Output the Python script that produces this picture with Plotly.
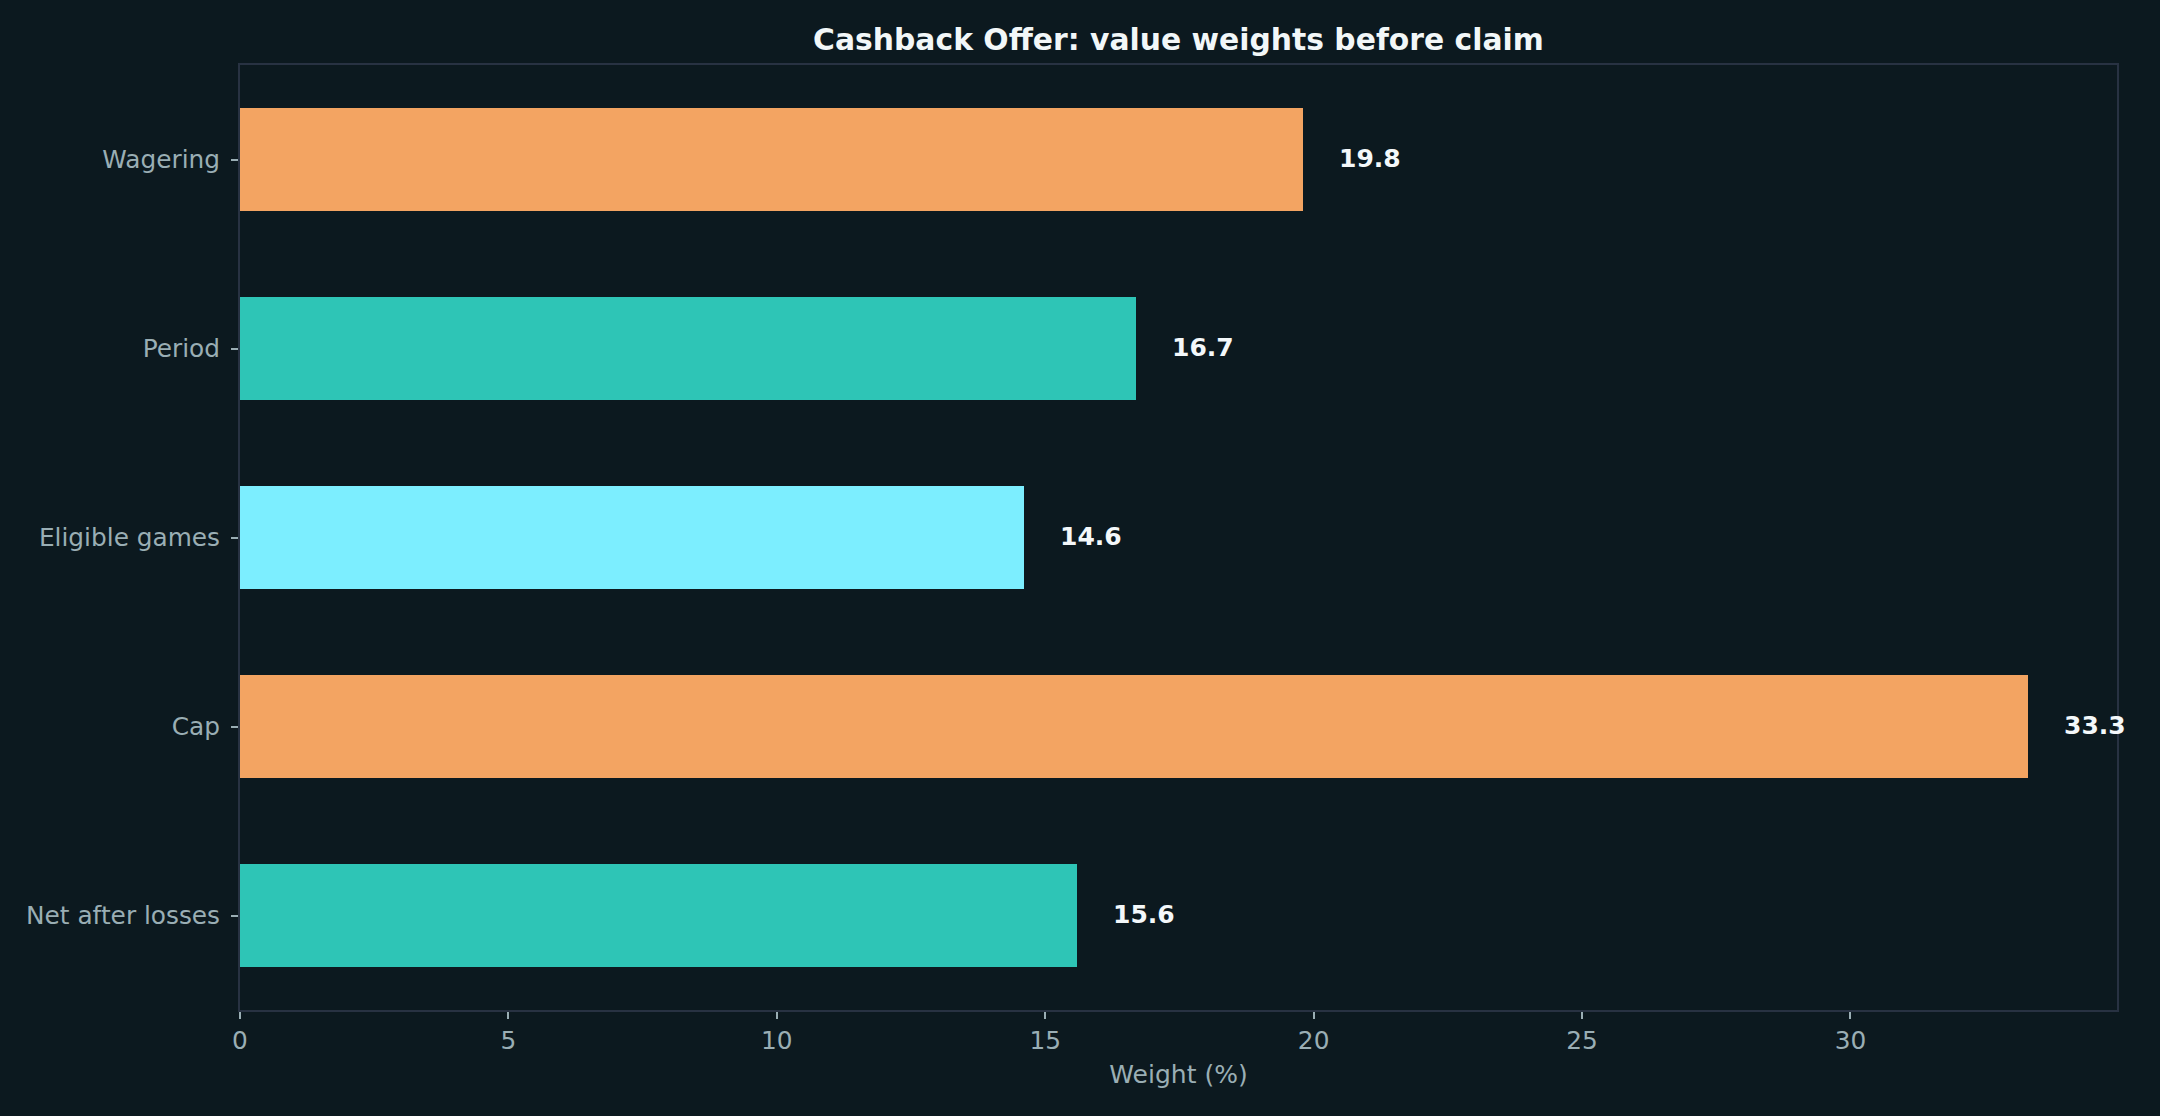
import plotly.graph_objects as go

categories = ["Wagering", "Period", "Eligible games", "Cap", "Net after losses"]
values = [19.8, 16.7, 14.6, 33.3, 15.6]
bar_colors = ["#F3A462", "#2EC5B6", "#7CEEFF", "#F3A462", "#2EC5B6"]
x_ticks = [0, 5, 10, 15, 20, 25, 30]
title_text = "Cashback Offer: value weights before claim"
x_title = "Weight (%)"

BG = "#0C191F"
SPINE = "#283242"
TICK_TXT = "#9AAEB4"
FONT = "DejaVu Sans"

fig = go.Figure()
fig.add_trace(go.Bar(
    x=values,
    y=categories,
    orientation="h",
    width=0.55,
    marker=dict(color=bar_colors, line=dict(width=0)),
    hoverinfo="skip",
    showlegend=False,
))

for c, v in zip(categories, values):
    fig.add_annotation(
        x=v, y=c, xref="x", yref="y",
        text=f"<b>{v:.1f}</b>",
        showarrow=False,
        xanchor="left", yanchor="middle",
        xshift=34, yshift=1,
        font=dict(family=FONT, size=25, color="#F4F8FA"),
    )

xmax = max(values) * 1.05

fig.update_layout(
    width=2160,
    height=1116,
    paper_bgcolor=BG,
    plot_bgcolor=BG,
    margin=dict(l=240, r=43, t=65, b=106),
    font=dict(family=FONT, color=TICK_TXT, size=25),
    title=dict(
        text=f"<b>{title_text}</b>",
        x=0.5, xref="paper", xanchor="center",
        y=1 - 40 / 1116, yref="container", yanchor="middle",
        font=dict(family=FONT, size=29.8, color="#F2F7F8"),
    ),
    bargap=0,
)

fig.update_xaxes(
    range=[0, xmax],
    tickmode="array",
    tickvals=x_ticks,
    ticktext=[str(t) for t in x_ticks],
    ticks="outside",
    ticklen=7,
    tickwidth=1.5,
    tickcolor=TICK_TXT,
    tickfont=dict(family=FONT, size=24.8, color=TICK_TXT),
    showgrid=False,
    zeroline=False,
    showline=True,
    linecolor=SPINE,
    linewidth=2,
    mirror=True,
    title=dict(text=x_title, font=dict(family=FONT, size=25, color=TICK_TXT), standoff=12),
)

fig.update_yaxes(
    categoryorder="array",
    categoryarray=categories,
    range=[4.5, -0.5],
    ticks="outside",
    ticklen=7,
    tickwidth=1.5,
    tickcolor=TICK_TXT,
    ticklabelstandoff=6,
    tickfont=dict(family=FONT, size=24.8, color=TICK_TXT),
    showgrid=False,
    zeroline=False,
    showline=True,
    linecolor=SPINE,
    linewidth=2,
    mirror=True,
)

fig.write_html(
    "out.html",
    config={"displayModeBar": False},
    post_script="document.body.style.margin='0';document.body.style.overflow='hidden';",
)
